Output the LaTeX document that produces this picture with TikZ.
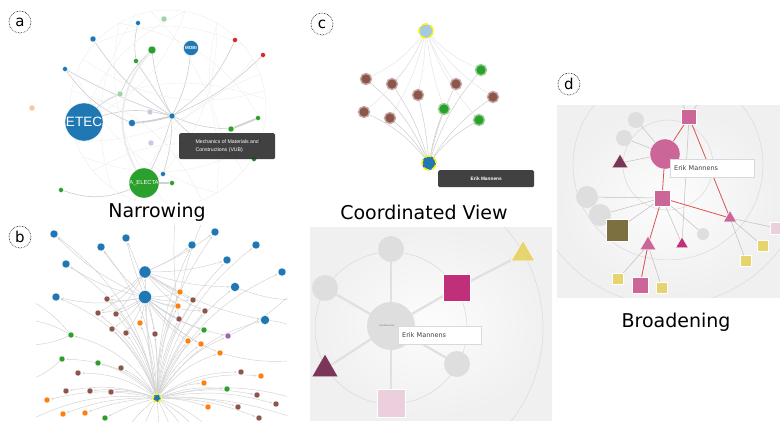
\documentclass[tikz,border=0pt]{standalone}
\usepackage{fontspec}
\setmainfont{DejaVu Sans}
\newfontfamily\tipfont{Liberation Sans}
\usetikzlibrary{shapes.geometric,arrows.meta,shadows}
\definecolor{tbl}{HTML}{1F77B4}
\definecolor{tor}{HTML}{FF7F0E}
\definecolor{tgr}{HTML}{2CA02C}
\definecolor{trd}{HTML}{D62728}
\definecolor{tpu}{HTML}{9467BD}
\definecolor{tbr}{HTML}{8C564B}
\definecolor{magd}{HTML}{C0307A}
\definecolor{pinkd}{HTML}{CC6699}
\definecolor{plum}{HTML}{7A3558}
\definecolor{yel}{HTML}{E8D46E}
\definecolor{olv}{HTML}{7D7040}
\definecolor{lpink}{HTML}{EBCFDD}
\definecolor{tipbg}{HTML}{333333}
\definecolor{redl}{HTML}{D9534F}
\definecolor{yring}{HTML}{FFF200}
\pgfdeclarelayer{back}
\pgfdeclarelayer{bg}
\pgfsetlayers{back,bg,main}
\begin{document}
\begin{tikzpicture}[x=1pt,y=-1pt,
  nd/.style={circle,inner sep=0pt,minimum size=#1,draw=white,line width=0.3pt},
  hn/.style={circle,inner sep=0pt,minimum size=#1,line width=1.6pt},
  sq/.style={rectangle,inner sep=0pt,minimum size=#1,draw=white,line width=0.4pt},
  tri/.style={regular polygon,regular polygon sides=3,inner sep=0pt,minimum size=#1,draw=white,line width=0.4pt},
  gc/.style={circle,inner sep=0pt,minimum size=#1,fill=black!13},
  lab/.style={circle,draw,densely dotted,line width=0.6pt,inner sep=0pt,minimum size=22pt,font=\fontsize{15}{15}\selectfont},
  captxt/.style={anchor=base,font=\fontsize{19}{19}\selectfont},
  faint/.style={draw=black!7,line width=0.4pt},
  aedge/.style={draw=black!20,line width=0.6pt},
  athick/.style={draw=black!18,line width=1.8pt},
  bedge/.style={draw=black!18,line width=0.45pt,-{Stealth[length=2.5pt,width=2pt]},shorten >=1pt},
  cedge/.style={draw=black!20,line width=0.5pt},
  sedge/.style={draw=black!12,line width=2.2pt},
  dedge/.style={draw=black!25,line width=0.5pt},
  redge/.style={draw=redl,line width=0.8pt},
  ring/.style={draw=black!15,line width=0.5pt},
  tipd/.style={rectangle,rounded corners=1.5pt,fill=tipbg,fill opacity=0.93,text opacity=1,text=white,anchor=north west,inner xsep=4pt,align=left,font=\tipfont\fontsize{5.2}{8}\selectfont},
  tipw/.style={rectangle,fill=white,draw=black!15,line width=0.3pt,anchor=north west,inner xsep=4pt,align=left,font=\fontsize{6.5}{7}\selectfont,text=black!75,drop shadow={shadow xshift=0.8pt,shadow yshift=-0.8pt,opacity=0.3}}
]
\useasboundingbox (0,0) rectangle (780,421);

% ================= panel a =================
\node[lab] (la) at (20,22) {a};
\begin{scope}
\clip (30,5) rectangle (300,200);
\foreach \p/\q in {10/150,30/200,60/250,80/190,100/300,120/350,140/40,170/290,220/330,250/20,270/120,300/160,320/60,340/210,200/80,185/5,235/110}
  \draw[faint] ([shift={(\p:98pt)}]168,108) to[bend left=25] ([shift={(\q:98pt)}]168,108);
\draw[faint] (168,108) circle[radius=98pt];
\end{scope}
\foreach \n/\x/\y/\c/\s in {
  a1/138/23/tbl/5, a2/164/19/tgr!45/6, a3/93/39/tbl/6, a4/152/50/tgr/8,
  a5/235/40/trd/5, a6/263/55/trd/5, a7/136/61/tgr/5, a8/65/69/tbl/5,
  a9/120/94/tgr!45/6, a10/32/108/tor!45/6, a11/150/112/tpu!40/6, a12/132/123/tbl/7,
  a13/258/118/tgr/5, a14/231/129/tgr/6, a15/151/143/tpu!40/6, a16/258/141/trd!70!black/6,
  a17/254/159/tgr!80!black/5, a18/163/174/tbl/5, a19/172/183/tgr/5, a20/61/190/tgr/5,
  ahub/172/116/tbl/6}
  \node[nd=\s,fill=\c] (\n) at (\x,\y) {};
\node[nd=38,fill=tbl,text=white,font=\tipfont\fontsize{13.5}{14}\selectfont] (ETEC) at (84,122) {ETEC};
\node[nd=15,fill=tbl,text=white,font=\tipfont\bfseries\fontsize{4.5}{5}\selectfont] (MOBI) at (191,48) {MOBI};
\node[nd=30,fill=tgr,text=white,font=\tipfont\fontsize{5.8}{6}\selectfont] (AEL) at (144,183) {A\_ELECTA};
\begin{pgfonlayer}{bg}
\draw[aedge] (ahub) to[bend right=15] (ETEC);
\draw[athick] (ahub) to[bend left=5] (a12);
\draw[aedge] (ahub) to[bend left=12] (a3);
\draw[aedge] (ahub) to[bend left=5] (a8);
\draw[aedge] (ahub) to[bend left=10] (a4);
\draw[aedge] (ahub) to (a7);
\draw[aedge] (ahub) to[bend right=10] (MOBI);
\draw[aedge] (ahub) to[bend right=10] (a14);
\draw[aedge] (ahub) to[bend left=8] (a18);
\draw[aedge] (ahub) to[bend left=5] (AEL);
\draw[aedge] (ahub) to[bend right=20] (a17);
\draw[aedge] (ahub) to[bend right=15] (a5);
\draw[aedge] (ahub) to[bend right=10] (a6);
\draw[athick] (a14) -- (a13);
\draw[aedge] (a4) to[bend right=10] (a9);
\draw[aedge] (a1) to[bend right=10] (a7);
\draw[athick,draw=black!8] (a4) to[bend right=35] (AEL);
\draw[aedge] (a20) to[bend right=20] (AEL);
\draw[athick] (AEL) -- (a19);
\draw[aedge] (a8) to[bend right=15] (a12);
\draw[aedge] (a9) to[bend right=10] (ETEC);
\end{pgfonlayer}
\node[tipd,minimum width=96pt,minimum height=26pt] (atip) at (179,133) {Mechanics of Materials and\\Constructions (VUB)};
\node[captxt] (ta) at (157,217) {Narrowing};

% ================= panel b =================
\node[lab] (lb) at (20,237) {b};
\foreach \n/\x/\y/\c/\s in {
  b1/54/234/tbl/8, b2/101/247/tbl/8, b3/126/238/tbl/8, b4/215/232/tbl/8,
  b5/192/245/tbl/8, b6/256/245/tbl/8, b7/66/264/tbl/8, b8/227/260/tbl/8,
  B1/145/272/tbl/12, b9/282/272/tbl/8, b10/235/287/tbl/9, B2/145/297/tbl/13,
  b11/56/297/tbl/8, b12/265/320/tbl/9,
  b13/180/292/tor/6, b14/107/299/tbr/6, b15/193/300/tbr/6, b16/178/306/tor/6,
  b17/98/313/tbr/6, b18/116/314/tbr/6, b19/205/311/tbr/6, b20/179/319/tbr/6,
  b21/140/323/tor/6, b22/112/329/tbr/6, b23/126/333/tbr/6, b24/155/334/tbr/6,
  b25/204/330/tgr/6, b26/228/336/tpu/6, b27/71/335/tgr/6, b28/188/341/tor/6,
  b29/201/344/tor/6, b30/220/353/tor/6, b31/62/359/tgr/6, b32/98/363/tgr/6,
  b33/121/368/tbr/6, b34/78/373/tbr/6, b35/241/372/tbr/6, b36/261/376/tor/6,
  b37/204/383/tor/6, b38/227/389/tgr/6, b39/66/391/tbr/6, b40/90/391/tbr/6,
  b41/111/392/tbr/6, b42/257/395/tbr/6, b43/47/400/tor/6, b44/276/404/tbr/6,
  b45/208/407/tor/6, b46/238/407/tbr/6, b47/63/414/tor/6, b48/85/413/tor/6,
  b49/105/418/tgr/6, b50/259/418/tbr/6}
  \node[nd=\s,fill=\c] (\n) at (\x,\y) {};
\node[hn=8,fill=tbl,draw=yring,dash pattern=on 3pt off 2pt] (bh) at (157,398) {};
\foreach \n/\x/\y in {bo1/120/440,bo2/140/440,bo3/160/440,bo4/175/440,bo5/190/440,bo6/205/440,bo7/220/440,bo8/30/320,bo9/30/345,bo10/30/380,bo11/30/300,bo12/300/300,bo13/300/330,bo14/300/285,bo15/300/360,bo16/175/215,bo17/205/215,bo18/30/420,bo19/300/400,bo20/300/420}
  \coordinate (\n) at (\x,\y);
\begin{pgfonlayer}{bg}
\begin{scope}
\clip (36,225) rectangle (287,421);
\foreach \n/\bb in {b1/-20,b2/-18,b3/-12,b7/-22,b11/-22,b14/-15,b17/-15,b18/-12,b21/-8,b22/-12,b23/-8,b24/-4,b27/-20,b31/-20,b32/-16,b33/-12,b34/-16,b39/-14,b40/-12,b41/-10,b43/-12,b47/-10,b48/-8,b49/-6,
  B1/4,B2/4,b4/15,b5/12,b6/18,b8/16,b9/20,b10/16,b12/20,b13/12,b15/12,b16/12,b19/12,b20/10,b25/14,b26/16,b28/12,b29/12,b30/16,b35/16,b36/16,b37/12,b38/12,b42/12,b44/12,b45/8,b46/10,b50/10}
  \draw[bedge] (bh) to[bend left=\bb] (\n);
\foreach \n/\bb in {b14/10,b17/12,b18/8,b22/8,b23/6,b21/4,b24/3,b13/-8,b16/-8,b15/-8,b19/-10,b20/-6,b28/-10,b29/-10,b30/-12,b7/10,b11/12,b2/6,b3/4,b1/10,b25/-10,b26/-12}
  \draw[bedge] (B2) to[bend left=\bb] (\n);
\foreach \n/\bb in {b14/8,b17/10,b18/6,b13/-6,b16/-6,b15/-6,b19/-8,b5/-6,b4/-6,b8/-8,b10/-8,b12/-10}
  \draw[bedge] (B1) to[bend left=\bb] (\n);
\foreach \n/\bb in {bo1/-10,bo2/-6,bo3/0,bo4/4,bo5/8,bo6/10,bo7/14,bo18/-15,bo19/15,bo20/10}
  \draw[bedge,-] (bh) to[bend left=\bb] (\n);
\draw[bedge,-] (b27) to[bend right=10] (bo8);
\draw[bedge,-] (b27) to[bend left=10] (bo9);
\draw[bedge,-] (b31) to[bend left=10] (bo10);
\draw[bedge,-] (b27) to[bend right=10] (bo11);
\draw[bedge,-] (b10) to[bend right=10] (bo12);
\draw[bedge,-] (b12) to[bend left=10] (bo13);
\draw[bedge,-] (b26) to[bend right=10] (bo14);
\draw[bedge,-] (b30) to[bend right=10] (bo15);
\draw[bedge,-] (b20) to[bend left=5] (bo16);
\draw[bedge,-] (b13) to[bend left=5] (bo17);
\end{scope}
\end{pgfonlayer}

% ================= panel c (top) =================
\node[lab] (lc) at (322,24) {c};
\foreach \n/\x/\y/\c in {
  c1/366/79/tbr, c2/392/84/tbr, c3/418/95/tbr, c4/456/84/tbr, c5/481/70/tgr,
  c6/493/97/tbr, c7/444/109/tgr, c8/364/112/tbr, c9/390/118/tbr, c10/479/120/tgr}
  \node[circle,inner sep=0pt,minimum size=11pt,fill=\c,draw=\c!50,line width=1.4pt] (\n) at (\x,\y) {};
\node[hn=14,fill=tbl!40,draw=yring,dash pattern=on 6pt off 3pt] (cT) at (426,31) {};
\node[hn=14,fill=tbl,draw=yring,dash pattern=on 6pt off 3pt] (cH) at (429,163) {};
\begin{pgfonlayer}{bg}
\foreach \n/\bb in {c1/-12,c2/-8,c3/-4,c4/6,c5/10,c6/10,c7/5,c8/-12,c9/-8,c10/10}{
  \draw[cedge] (cH) to[bend left=\bb] (\n);
  \draw[cedge,draw=black!10] (\n) to[bend left=\bb] (cT);}
\end{pgfonlayer}
\node[tipd,minimum width=96pt,minimum height=17pt,font=\tipfont\bfseries\fontsize{4.8}{5}\selectfont] (ctip) at (438,170) {Erik Mannens};
\node[captxt] (tc) at (424,219) {Coordinated View};

% ================= panel c (bottom screenshot) =================
\begin{pgfonlayer}{back}
\begin{scope}
\clip (310,227) rectangle (552,420);
\shade[inner color=black!1,outer color=black!6] (310,227) rectangle (552,420);
\draw[ring] (391,328) circle[radius=76pt];
\draw[ring] (391,328) circle[radius=152pt];
\end{scope}
\end{pgfonlayer}
\begin{scope}
\clip (310,227) rectangle (552,420);
\node[gc=48] (sC) at (391,326) {};
\node[font=\fontsize{2.2}{2.5}\selectfont,text=black!60] (sCl) at (387,326) {Erik Mannens};
\node[gc=26] (sT) at (391,249) {};
\node[gc=26] (sL) at (325,288) {};
\node[gc=26] (sR) at (457,364) {};
\node[sq=27,fill=magd,draw=white] (sM) at (457,288) {};
\node[tri=27,fill=yel] (sY) at (523,254) {};
\node[tri=30,fill=plum] (sP) at (325,369) {};
\node[sq=28,fill=lpink] (sS) at (391,403) {};
\begin{pgfonlayer}{bg}
\foreach \n in {sT,sL,sR,sM,sP,sS} \draw[sedge] (sC) -- (\n);
\draw[sedge] (sM) -- (sY);
\end{pgfonlayer}
\node[tipw,text width=75pt,minimum height=18pt] (stip) at (398,326) {Erik Mannens};
\end{scope}

% ================= panel d =================
\node[lab] (ld) at (569,84) {d};
\node[captxt] (td) at (676,327) {Broadening};
\begin{pgfonlayer}{back}
\begin{scope}
\clip (557,105) rectangle (780,297);
\shade[inner color=black!1,outer color=black!6] (557,105) rectangle (780,297);
\draw[ring] (668,165) circle[radius=45pt];
\draw[ring] (668,165) circle[radius=95pt];
\draw[ring] (668,165) circle[radius=140pt];
\end{scope}
\end{pgfonlayer}
\begin{scope}
\clip (557,105) rectangle (780,297);
\node[gc=16] (dg1) at (636,120) {};
\node[gc=16] (dg2) at (624,138) {};
\node[gc=22] (dg3) at (587,197) {};
\node[gc=22] (dg4) at (600,215) {};
\node[gc=12] (dg5) at (703,234) {};
\node[sq=15,fill=pinkd] (dt) at (689,117) {};
\node[nd=30,fill=pinkd] (dc) at (665,154) {};
\node[tri=18,fill=plum] (dtri) at (620,163) {};
\node[sq=16,fill=pinkd] (dm) at (662,198) {};
\node[sq=22,fill=olv] (dol) at (617,230) {};
\node[tri=15,fill=pinkd] (dtr) at (730,218) {};
\node[tri=18,fill=pinkd] (dtl) at (648,245) {};
\node[tri=14,fill=magd] (dmt) at (682,244) {};
\node[sq=11,fill=yel] (dy1) at (763,246) {};
\node[sq=11,fill=yel] (dy2) at (746,261) {};
\node[sq=11,fill=yel] (dy3) at (618,279) {};
\node[sq=11,fill=yel] (dy4) at (662,288) {};
\node[sq=12,fill=lpink] (dps) at (776,228) {};
\node[sq=16,fill=pinkd] (dbs) at (640,285) {};
\coordinate (dup1) at (680,100);
\coordinate (dup2) at (700,100);
\node[tipw,text width=76pt,minimum height=18pt] (dtip) at (670,159) {Erik Mannens};
\end{scope}
\begin{pgfonlayer}{bg}
\begin{scope}
\clip (557,105) rectangle (780,297);
\foreach \a/\b in {dc/dg1,dc/dg2,dc/dtri,dt/dmt,dm/dg3,dm/dg4,dm/dol,dm/dmt,dm/dg5,dtr/dy1,dtr/dy2,dtr/dps,dtl/dy3,dtl/dy4,dt/dup1,dt/dup2}
  \draw[dedge] (\a) -- (\b);
\foreach \a/\b in {dt/dc,dt/dtr,dc/dm,dm/dtr,dm/dtl,dtl/dbs}
  \draw[redge] (\a) -- (\b);
\end{scope}
\end{pgfonlayer}
\end{tikzpicture}
\end{document}
